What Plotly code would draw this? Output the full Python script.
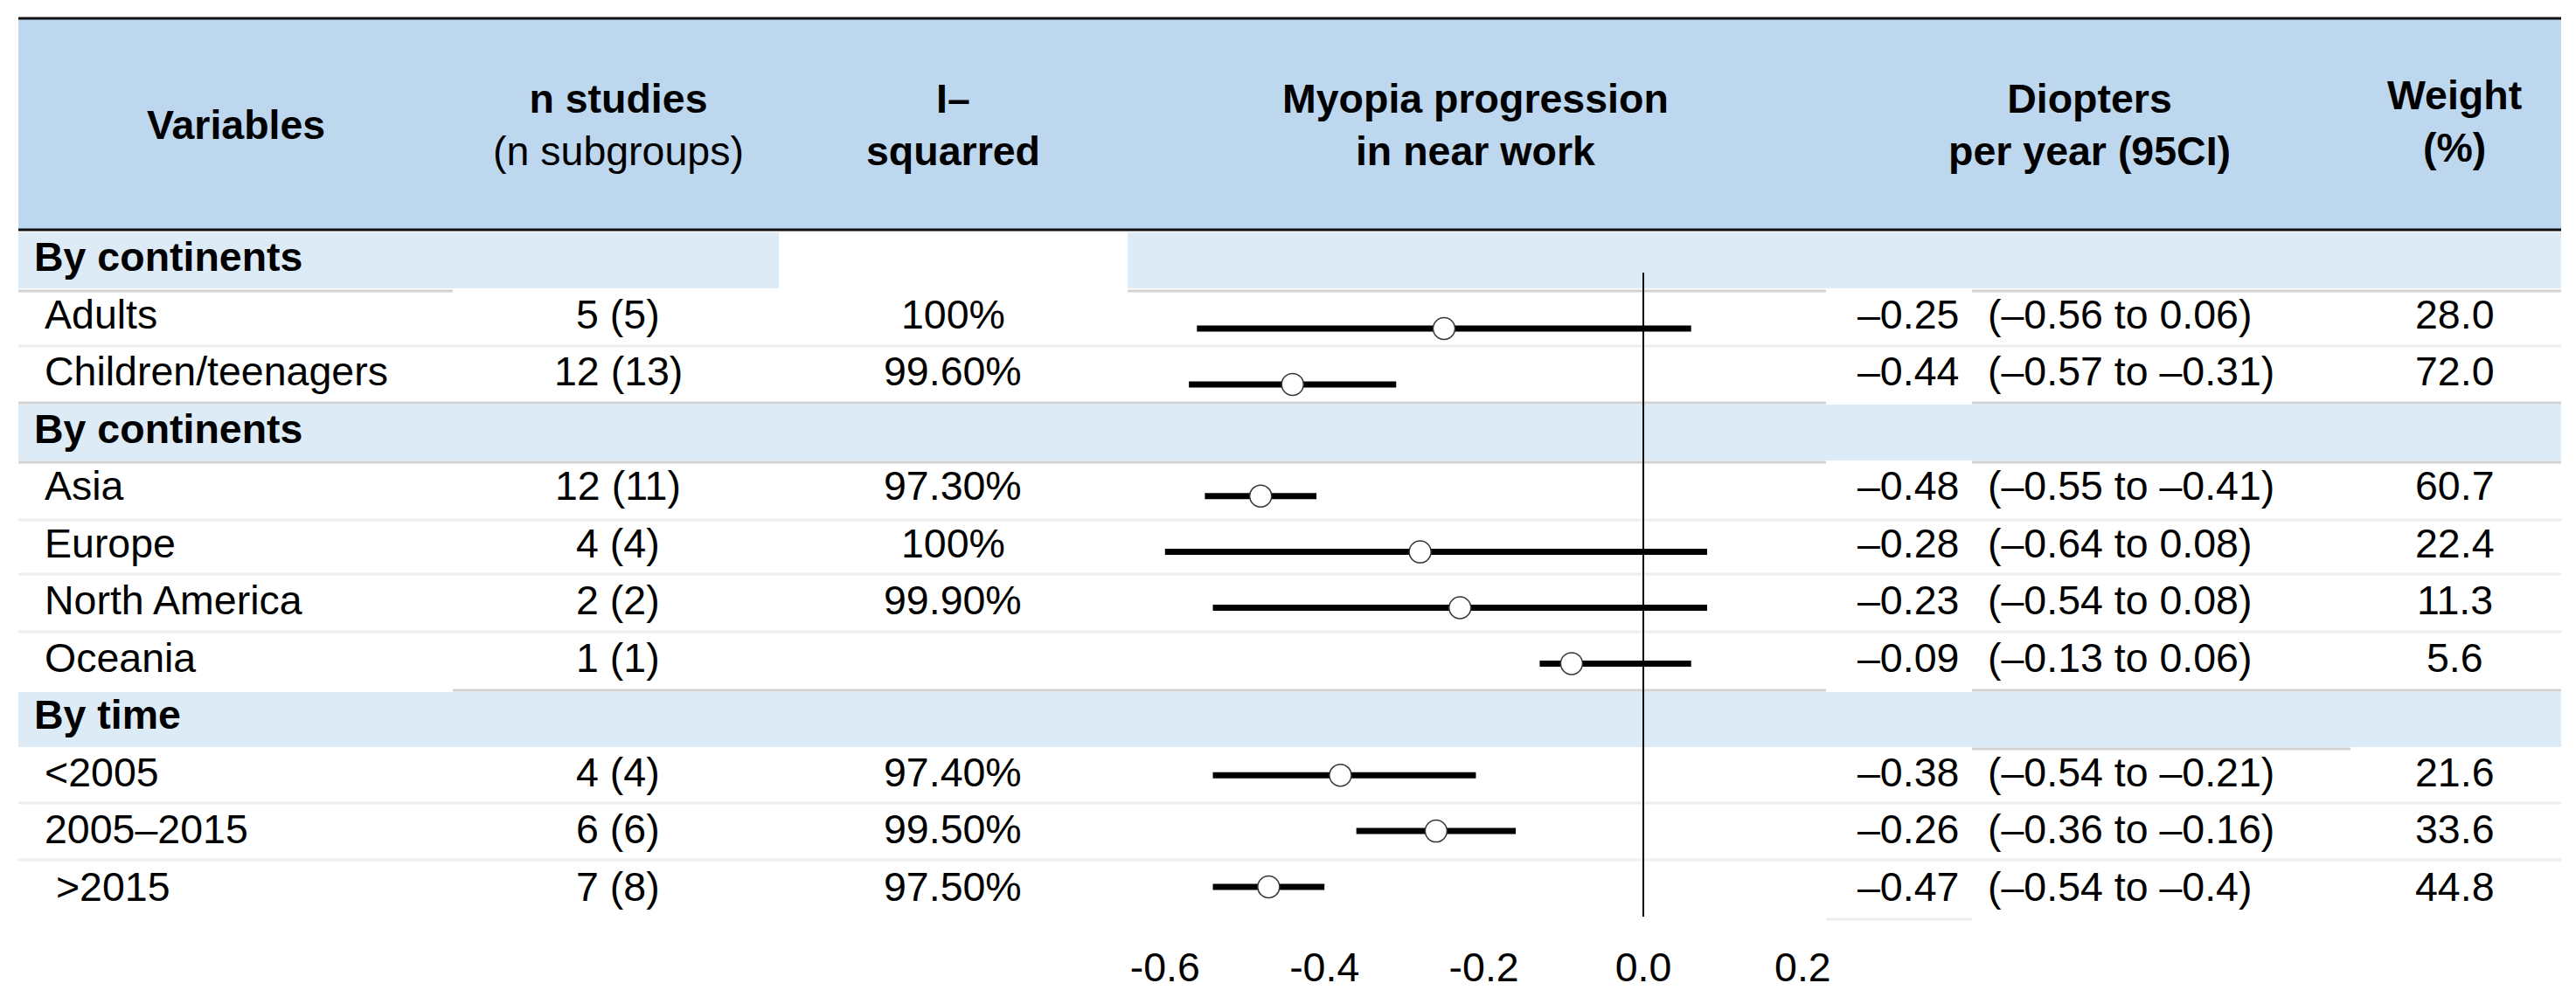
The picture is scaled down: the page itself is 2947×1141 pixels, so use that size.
import plotly.graph_objects as go

# ---------------- data ----------------
row_labels = ["By continents", "Adults", "Children/teenagers",
              "By continents", "Asia", "Europe", "North America", "Oceania",
              "By time", "<2005", "2005–2015", "\u00a0>2015"]
is_section = [True, False, False, True, False, False, False, False,
              True, False, False, False]

n_studies = [5, 12, 12, 4, 2, 1, 4, 6, 7]
n_subgroups = [5, 13, 11, 4, 2, 1, 4, 6, 8]
i_squared = [100, 99.6, 97.3, 100, 99.9, None, 97.4, 99.5, 97.5]
estimate = [-0.25, -0.44, -0.48, -0.28, -0.23, -0.09, -0.38, -0.26, -0.47]
ci_low = [-0.56, -0.57, -0.55, -0.64, -0.54, -0.13, -0.54, -0.36, -0.54]
ci_high = [0.06, -0.31, -0.41, 0.08, 0.08, 0.06, -0.21, -0.16, -0.4]
weight = [28.0, 72.0, 60.7, 22.4, 11.3, 5.6, 21.6, 33.6, 44.8]

tick_vals = [-0.6, -0.4, -0.2, 0.0, 0.2]
tick_text = ["-0.6", "-0.4", "-0.2", "0.0", "0.2"]

header_cols = ["<b>Variables</b>",
               "<b>n studies</b><br>(n subgroups)",
               "<b>I–</b><br><b>squarred</b>",
               "<b>Myopia progression</b><br><b>in near work</b>",
               "<b>Diopters</b><br><b>per year (95CI)</b>",
               "<b>Weight</b><br><b>(%)</b>"]

# ---------------- geometry (pixels) ----------------
W, H = 2947, 1141
PLOT_BOTTOM = 1075
FONT = "Liberation Sans, Arial, Helvetica, sans-serif"
FS = 46.5

ZERO_PX, PX_PER_UNIT = 1880.0, 912.0
FOREST_Y0, FOREST_STEP = 312.1, 63.9
TABLE_Y0, TABLE_STEP = 294.0, 65.5

HEADER_BLUE = "#BDD7EE"
SECTION_BLUE = "#DDEBF7"
DARK_SEP = "#d2d2d2"
LIGHT_SEP = "#eeeeee"


def px_x(px):
    return px / W


def px_y(py):
    return 1 - py / PLOT_BOTTOM


def fmt(v):
    return ("%g" % v).replace("-", "–")


# ---------------- figure ----------------
fig = go.Figure()

forest_rows = [i for i, s in enumerate(is_section) if not s]

fig.add_trace(go.Scatter(
    x=estimate, y=forest_rows, mode="markers",
    marker=dict(size=25, color="white", line=dict(color="#333333", width=1.5)),
    error_x=dict(type="data", symmetric=False,
                 array=[h - e for h, e in zip(ci_high, estimate)],
                 arrayminus=[e - l for e, l in zip(estimate, ci_low)],
                 thickness=7, width=0, color="black"),
    showlegend=False, hoverinfo="skip"))

shapes = []


def rect(x0, x1, y0, y1, color):
    shapes.append(dict(type="rect", xref="paper", yref="paper",
                       x0=px_x(x0), x1=px_x(x1), y0=px_y(y1), y1=px_y(y0),
                       fillcolor=color, line=dict(width=0), layer="below"))


def hline(x0, x1, y, color, width=3):
    shapes.append(dict(type="line", xref="paper", yref="paper",
                       x0=px_x(x0), x1=px_x(x1), y0=px_y(y), y1=px_y(y),
                       line=dict(color=color, width=width), layer="below"))


L, R = 21, 2930
# header
rect(L, R, 21, 262, HEADER_BLUE)
hline(L, R, 21, "#111111", 3)
hline(L, R, 263, "#111111", 3)
# section bands
rect(L, 891, 266, 330, SECTION_BLUE)
rect(1290, R, 266, 330, SECTION_BLUE)
rect(L, R, 463, 527, SECTION_BLUE)
rect(L, R, 792, 855, SECTION_BLUE)
# dark separators
for a, b in [(L, 518), (1290, 2089), (2256, R)]:
    hline(a, b, 333, DARK_SEP)
for y in (461, 529):
    hline(L, 2089, y, DARK_SEP)
    hline(2256, R, y, DARK_SEP)
hline(518, 2089, 790, DARK_SEP)
hline(2256, R, 790, DARK_SEP)
hline(2256, 2689, 857, DARK_SEP)
# light separators
for y in (396, 595, 657, 723, 919, 984):
    hline(L, R, y, LIGHT_SEP)
hline(2089, 2256, 1052, LIGHT_SEP)

# zero line
shapes.append(dict(type="line", xref="x", yref="paper", x0=0, x1=0,
                   y0=px_y(1049), y1=px_y(312),
                   line=dict(color="black", width=2), layer="below"))

annotations = []


def text(x, y, s, anchor="center"):
    annotations.append(dict(xref="paper", yref="paper", x=px_x(x), y=px_y(y),
                            text=s, showarrow=False, xanchor=anchor,
                            yanchor="middle", align="center",
                            font=dict(family=FONT, size=FS, color="black")))


# header texts
header_x = [270, 707, 1090, 1688, 2390, 2808]
header_y = [143, 143, 143, 143, 143, 139]
for hx, hy, s in zip(header_x, header_y, header_cols):
    text(hx, hy, s)

# body
k = 0
for i, (lab, sec) in enumerate(zip(row_labels, is_section)):
    ty = TABLE_Y0 + TABLE_STEP * i
    if sec:
        text(37, ty, "<b>%s</b>" % lab, anchor="left")
        continue
    text(49, ty, lab, anchor="left")
    text(707, ty, "%d (%d)" % (n_studies[k], n_subgroups[k]))
    if i_squared[k] is not None:
        isq = "%d%%" % i_squared[k] if i_squared[k] == 100 else "%.2f%%" % i_squared[k]
        text(1090, ty, isq)
    text(2123, ty, fmt(estimate[k]), anchor="left")
    text(2272, ty, "(%s to %s)" % (fmt(ci_low[k]), fmt(ci_high[k])), anchor="left")
    text(2808, ty, "%.1f" % weight[k])
    k += 1

y_top = -FOREST_Y0 / FOREST_STEP
y_bot = (PLOT_BOTTOM - FOREST_Y0) / FOREST_STEP

fig.update_layout(
    template="none",
    width=W, height=H, autosize=False,
    margin=dict(l=0, r=0, t=0, b=H - PLOT_BOTTOM, pad=0, autoexpand=False),
    paper_bgcolor="white", plot_bgcolor="rgba(0,0,0,0)",
    shapes=shapes, annotations=annotations, showlegend=False,
    xaxis=dict(domain=[px_x(ZERO_PX - 0.6 * PX_PER_UNIT), px_x(ZERO_PX + 0.2 * PX_PER_UNIT)],
               range=[-0.6, 0.2], tickvals=tick_vals, ticktext=tick_text,
               ticks="", showgrid=False, zeroline=False, showline=False,
               automargin=False,
               tickfont=dict(family=FONT, size=FS, color="black")),
    yaxis=dict(range=[y_bot, y_top], visible=False, showgrid=False,
               zeroline=False, automargin=False),
    font=dict(family=FONT, size=FS, color="black"),
)

fig.write_html("out.html",
               config={"displayModeBar": False, "responsive": False},
               post_script="document.body.style.margin='0';"
                           "document.body.style.overflow='hidden';")
